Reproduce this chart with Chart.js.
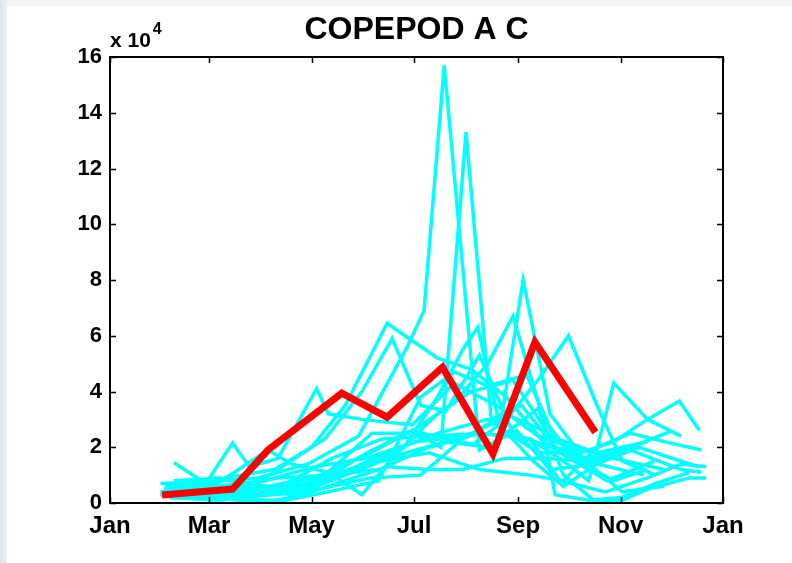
<!DOCTYPE html>
<html>
<head>
<meta charset="utf-8">
<script src="https://cdn.jsdelivr.net/npm/chart.js@4/dist/chart.umd.min.js"></script>
<style>
html,body{margin:0;padding:0;background:#fff;}
canvas{display:block;}
</style>
</head>
<body>
<canvas id="c" width="792" height="563"></canvas>
<script>
// ---- DATA (day of year, value in units of 10^4) ----
const titleText = 'COPEPOD A C';
const tickDays = [0, 59, 120, 181, 243, 304, 365];
const tickLabels = ['Jan', 'Mar', 'May', 'Jul', 'Sep', 'Nov', 'Jan'];
const yTicks = [0, 2, 4, 6, 8, 10, 12, 14, 16];

const meanSeries = [[31,0.29],[73,0.5],[94,1.9],[138,3.94],[165,3.08],[198,4.87],[228,1.76],[253,5.77],[289,2.54]];

const yr01 = [[30,0.7],[58,0.75],[88,0.9],[118,1.4],[148,2.4],[177,5.6],[187,6.9],[199,15.7],[220,1.9],[242,2.6],[262,1.2],[290,1.4],[318,1.0]];
const yr02 = [[35,0.4],[65,0.3],[95,0.6],[125,1.0],[155,1.8],[180,2.6],[197,2.0],[212,13.3],[227,3.0],[245,3.5],[268,1.8],[296,0.8],[324,1.5]];
const yr03 = [[32,0.5],[62,0.6],[92,0.8],[122,1.3],[152,1.6],[182,2.2],[212,2.4],[233,3.0],[246,8.0],[262,3.2],[282,1.6],[310,1.9],[340,1.2],[352,1.1]];
const yr04 = [[30,0.3],[60,0.2],[90,0.8],[120,2.0],[140,3.5],[165,6.45],[195,5.2],[215,4.8],[236,3.8],[258,2.2],[285,1.4],[312,2.0]];
const yr05 = [[38,0.8],[68,0.9],[98,1.2],[128,2.3],[150,4.0],[168,5.9],[185,3.5],[200,3.3],[220,5.3],[240,2.5],[262,2.0],[290,1.8],[320,2.2]];
const yr06 = [[38,1.45],[57,0.7],[73,2.15],[83,1.3],[100,1.6],[123,4.1],[130,3.2],[150,3.0],[180,2.8],[205,4.3],[230,3.5],[255,2.4],[280,1.9]];
const yr07 = [[33,0.6],[63,0.9],[93,0.6],[123,0.7],[153,1.8],[183,2.7],[205,3.6],[225,5.0],[240,6.7],[258,3.0],[278,1.5],[300,0.8],[320,1.2]];
const yr08 = [[36,0.3],[66,0.2],[96,0.3],[126,0.9],[156,2.5],[186,2.5],[216,2.1],[236,3.0],[256,4.5],[273,6.0],[290,3.5],[305,1.5],[325,1.0]];
const yr09 = [[40,0.5],[70,0.5],[100,0.9],[130,1.0],[160,1.2],[190,2.0],[220,2.5],[250,2.3],[270,1.5],[285,0.8],[300,4.3],[320,3.0],[340,2.4]];
const yr10 = [[45,0.3],[75,0.2],[105,0.5],[135,1.0],[165,1.8],[195,2.5],[225,3.0],[255,1.8],[280,1.8],[300,2.2],[320,3.0],[339,3.66],[351,2.6]];
const yr11 = [[40,0.6],[70,0.4],[100,0.3],[130,0.8],[160,1.5],[190,1.8],[220,1.2],[250,1.0],[270,0.8],[290,2.0],[310,2.5],[330,2.2],[352,1.9]];
const yr12 = [[35,0.2],[65,0.1],[95,0.3],[125,0.5],[155,0.9],[185,1.0],[210,2.3],[235,3.2],[258,2.6],[265,0.3],[285,0.1],[305,0.2],[325,0.7],[345,1.1]];
const yr13 = [[30,0.3],[60,0.2],[90,0.4],[120,0.9],[150,1.3],[175,2.0],[195,3.8],[210,5.5],[219,6.3],[232,2.8],[252,1.5],[270,0.6],[290,1.4],[315,2.0],[350,1.3]];
const yr14 = [[42,0.35],[72,0.5],[102,0.6],[132,1.6],[162,2.3],[192,2.4],[222,2.5],[250,2.3],[268,0.8],[295,0.4],[320,0.9],[340,1.4],[355,1.3]];
const yr15 = [[30,0.4],[60,0.5],[90,0.4],[110,0.3],[140,1.0],[170,1.7],[200,2.2],[225,2.0],[255,3.4],[270,1.0],[288,0.1],[305,0.1],[320,0.5],[345,0.9],[355,0.9]];
const yr16 = [[34,0.6],[64,0.7],[94,1.9],[108,1.4],[130,1.1],[150,0.3],[168,1.6],[195,3.2],[215,4.0],[240,4.4],[262,2.4],[280,2.0],[300,1.6],[330,1.2]];
const yr17 = [[40,0.25],[70,0.3],[95,0.05],[115,0.3],[140,0.8],[165,1.3],[190,1.2],[210,1.2],[235,1.6],[260,1.6],[285,1.5],[310,2.0],[335,2.6]];
const yr18 = [[45,0.4],[75,0.1],[105,0.1],[130,0.4],[160,0.8],[185,3.8],[205,4.7],[225,4.2],[248,4.6],[265,2.3],[285,1.4],[305,0.4],[330,0.6]];

const yearSeries = [yr01,yr02,yr03,yr04,yr05,yr06,yr07,yr08,yr09,yr10,yr11,yr12,yr13,yr14,yr15,yr16,yr17,yr18];

// ---- BUILD ----
const toPts = s => s.map(p => ({x: p[0], y: p[1]}));
const datasets = [{
  data: toPts(meanSeries),
  borderColor: '#ff0000',
  borderWidth: 7,
  order: 0
}].concat(yearSeries.map(s => ({
  data: toPts(s),
  borderColor: '#00ffff',
  borderWidth: 3.5,
  order: 1
})));

const FONT = '"Liberation Sans", Arial, Helvetica, sans-serif';

const decor = {
  id: 'decor',
  beforeDraw(chart) {
    const ctx = chart.ctx;
    ctx.save();
    const g = ctx.createLinearGradient(0, 0, 8, 0);
    g.addColorStop(0, '#dbe6ea');
    g.addColorStop(1, '#eef3f4');
    ctx.fillStyle = '#f2f4f4';
    ctx.fillRect(0, 0, 792, 563);
    ctx.fillStyle = g;
    ctx.fillRect(0, 0, 8, 563);
    ctx.fillStyle = '#ffffff';
    ctx.fillRect(7, 6, 785, 557);
    ctx.restore();
  },
  afterDatasetsDraw(chart) {
    const ctx = chart.ctx;
    const a = chart.chartArea;
    const xs = chart.scales.x, ys = chart.scales.y;
    ctx.save();
    ctx.strokeStyle = '#000';
    ctx.lineWidth = 2;
    ctx.strokeRect(a.left, a.top, a.right - a.left, a.bottom - a.top);
    ctx.lineWidth = 1.5;
    const tl = 6;
    ctx.beginPath();
    tickDays.forEach(d => {
      const px = Math.round(xs.getPixelForValue(d)) + 0.5;
      ctx.moveTo(px, a.bottom); ctx.lineTo(px, a.bottom - tl);
      ctx.moveTo(px, a.top); ctx.lineTo(px, a.top + tl);
    });
    yTicks.forEach(v => {
      const py = Math.round(ys.getPixelForValue(v)) + 0.5;
      ctx.moveTo(a.left, py); ctx.lineTo(a.left + tl, py);
      ctx.moveTo(a.right, py); ctx.lineTo(a.right - tl, py);
    });
    ctx.stroke();
    // title
    ctx.fillStyle = '#000';
    ctx.textAlign = 'center';
    ctx.textBaseline = 'alphabetic';
    ctx.font = 'bold 32px ' + FONT;
    ctx.fillText(titleText, (a.left + a.right) / 2, 39);
    // exponent label
    ctx.textAlign = 'left';
    ctx.font = 'bold 21px ' + FONT;
    ctx.fillText('x 10', a.left, 47);
    const w = ctx.measureText('x 10').width;
    ctx.font = 'bold 16px ' + FONT;
    ctx.fillText('4', a.left + w + 2, 34);
    ctx.restore();
  }
};

new Chart(document.getElementById('c'), {
  type: 'line',
  data: { datasets },
  options: {
    responsive: false,
    animation: false,
    events: [],
    layout: { padding: { top: 57, right: 69, bottom: 0, left: 0 } },
    plugins: { legend: { display: false }, tooltip: { enabled: false }, title: { display: false } },
    elements: { point: { radius: 0 }, line: { tension: 0, borderJoinStyle: 'miter', borderCapStyle: 'butt' } },
    scales: {
      x: {
        type: 'linear',
        min: 0, max: 365,
        afterFit: s => { s.height = 60; },
        afterBuildTicks: s => { s.ticks = tickDays.map(v => ({ value: v })); },
        grid: { display: false, drawTicks: false },
        border: { display: false },
        ticks: {
          autoSkip: false, maxRotation: 0, padding: 9,
          color: '#000',
          font: { family: FONT, size: 24, weight: 'bold' },
          callback: v => tickLabels[tickDays.indexOf(v)]
        }
      },
      y: {
        type: 'linear',
        min: 0, max: 16,
        afterFit: s => { s.width = 110; },
        afterBuildTicks: s => { s.ticks = yTicks.map(v => ({ value: v })); },
        grid: { display: false, drawTicks: false },
        border: { display: false },
        ticks: {
          padding: 8,
          color: '#000',
          font: { family: FONT, size: 22, weight: 'bold' },
          callback: v => String(v)
        }
      }
    }
  },
  plugins: [decor]
});
</script>
</body>
</html>
